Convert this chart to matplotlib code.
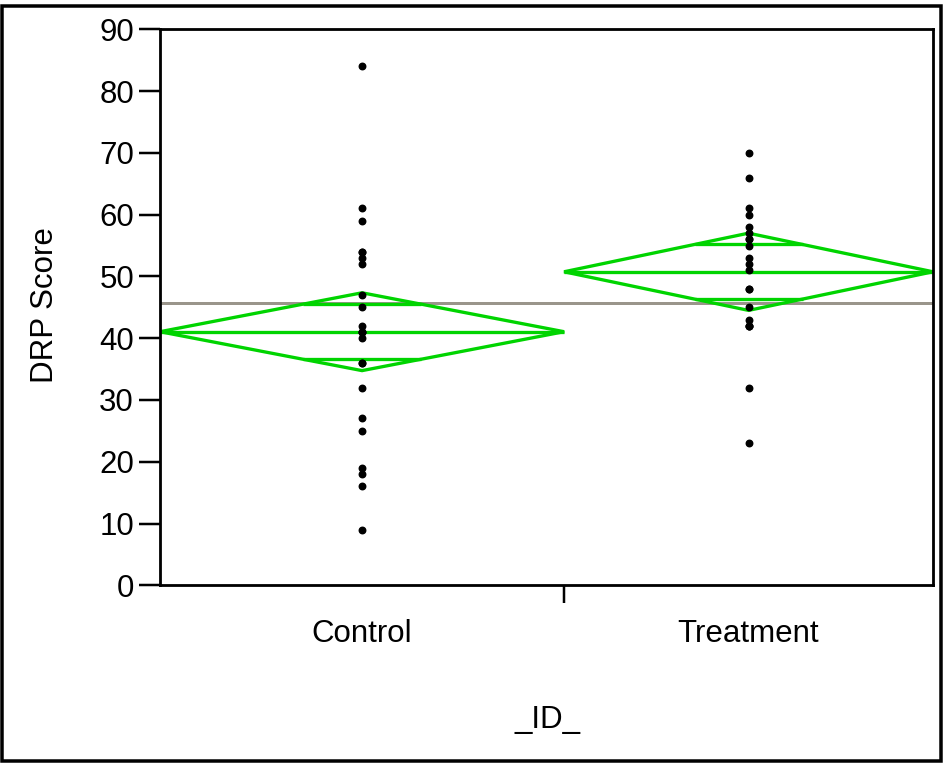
import numpy as np
import matplotlib
matplotlib.use("Agg")
import matplotlib.pyplot as plt
from matplotlib.patches import Polygon, Rectangle

plt.rcParams['font.family'] = ['Liberation Sans', 'DejaVu Sans']

# ---- data ----
groups = ["Control", "Treatment"]
control_scores = [9, 16, 18, 19, 25, 27, 32, 36, 36, 40, 41, 41, 41, 42,
                  45, 47, 52, 53, 54, 54, 59, 61, 84]
treatment_scores = [23, 32, 42, 42, 42, 43, 45, 48, 48, 51, 52, 53, 55,
                    56, 56, 57, 58, 60, 61, 66, 70]
group_means = [41.05, 50.75]          # diamond centre lines
ci_half = [6.3, 6.25]                 # 95% CI half-widths (diamond tips)
grand_mean = 45.65
y_ticks = [0, 10, 20, 30, 40, 50, 60, 70, 80, 90]

GREEN = '#00d400'
GREY = '#9a958b'

W, H = 943, 763
fig = plt.figure(figsize=(W / 100, H / 100), dpi=100)
ax = fig.add_axes([160 / W, (H - 585.3) / H, 773 / W, (585.3 - 29.3) / H])

data = [control_scores, treatment_scores]
sizes = [len(d) for d in data]
edges = np.concatenate([[0], np.cumsum(sizes)])
total = edges[-1]

px = 72 / 100  # points per pixel

# grand mean line
ax.axhline(grand_mean, color=GREY, lw=3 * px, zorder=1)

for i, vals in enumerate(data):
    x0, x1 = edges[i], edges[i + 1]
    xc = (x0 + x1) / 2
    half = (x1 - x0) / 2
    m, h = group_means[i], ci_half[i]
    diamond = Polygon([(x0, m), (xc, m + h), (x1, m), (xc, m - h)],
                      closed=True, fill=False, edgecolor=GREEN,
                      lw=3.3 * px, zorder=2, joinstyle='miter')
    ax.add_patch(diamond)
    ax.plot([x0, x1], [m, m], color=GREEN, lw=3.3 * px, zorder=2,
            solid_capstyle='butt')
    # overlap marks
    ho = h / np.sqrt(2)
    wo = half * (1 - 1 / np.sqrt(2))
    for s in (1, -1):
        ax.plot([xc - wo, xc + wo], [m + s * ho, m + s * ho], color=GREEN,
                lw=3.3 * px, zorder=2, solid_capstyle='butt')
    ax.plot([xc] * len(vals), vals, linestyle='none', marker='o',
            markersize=6.5 * px, color='black', zorder=3)

ax.set_xlim(0, total)
ax.set_ylim(0, 90)

# y axis
ax.set_yticks(y_ticks)
ax.set_yticklabels([str(t) for t in y_ticks])
ax.tick_params(axis='y', direction='out', length=21 * px, width=2.5 * px,
               pad=5 * px, labelsize=22.5, colors='black')

# x axis: boundary tick, labels at centres
centers = [(edges[i] + edges[i + 1]) / 2 for i in range(len(groups))]
ax.set_xticks(centers)
ax.set_xticklabels(groups)
ax.tick_params(axis='x', which='major', length=0, pad=34 * px, labelsize=22.5)
ax.set_xticks(edges[1:-1], minor=True)
ax.tick_params(axis='x', which='minor', direction='out', length=18 * px,
               width=2.5 * px)

for sp in ax.spines.values():
    sp.set_linewidth(2.8 * px)
    sp.set_color('black')

fig.text(45 / W, 1 - 305 / H, 'DRP Score', rotation=90, ha='center',
         va='center', fontsize=22.5)
fig.text(548 / W, 1 - 720 / H, '_ID_', ha='center', va='center',
         fontsize=22.5)

# outer frame
fig.patches.append(Rectangle((2 / W, 2 / H), (W - 4) / W, (H - 8) / H,
                             transform=fig.transFigure, fill=False,
                             edgecolor='black', lw=3.5 * px))

fig.savefig('out.png', dpi=100)
